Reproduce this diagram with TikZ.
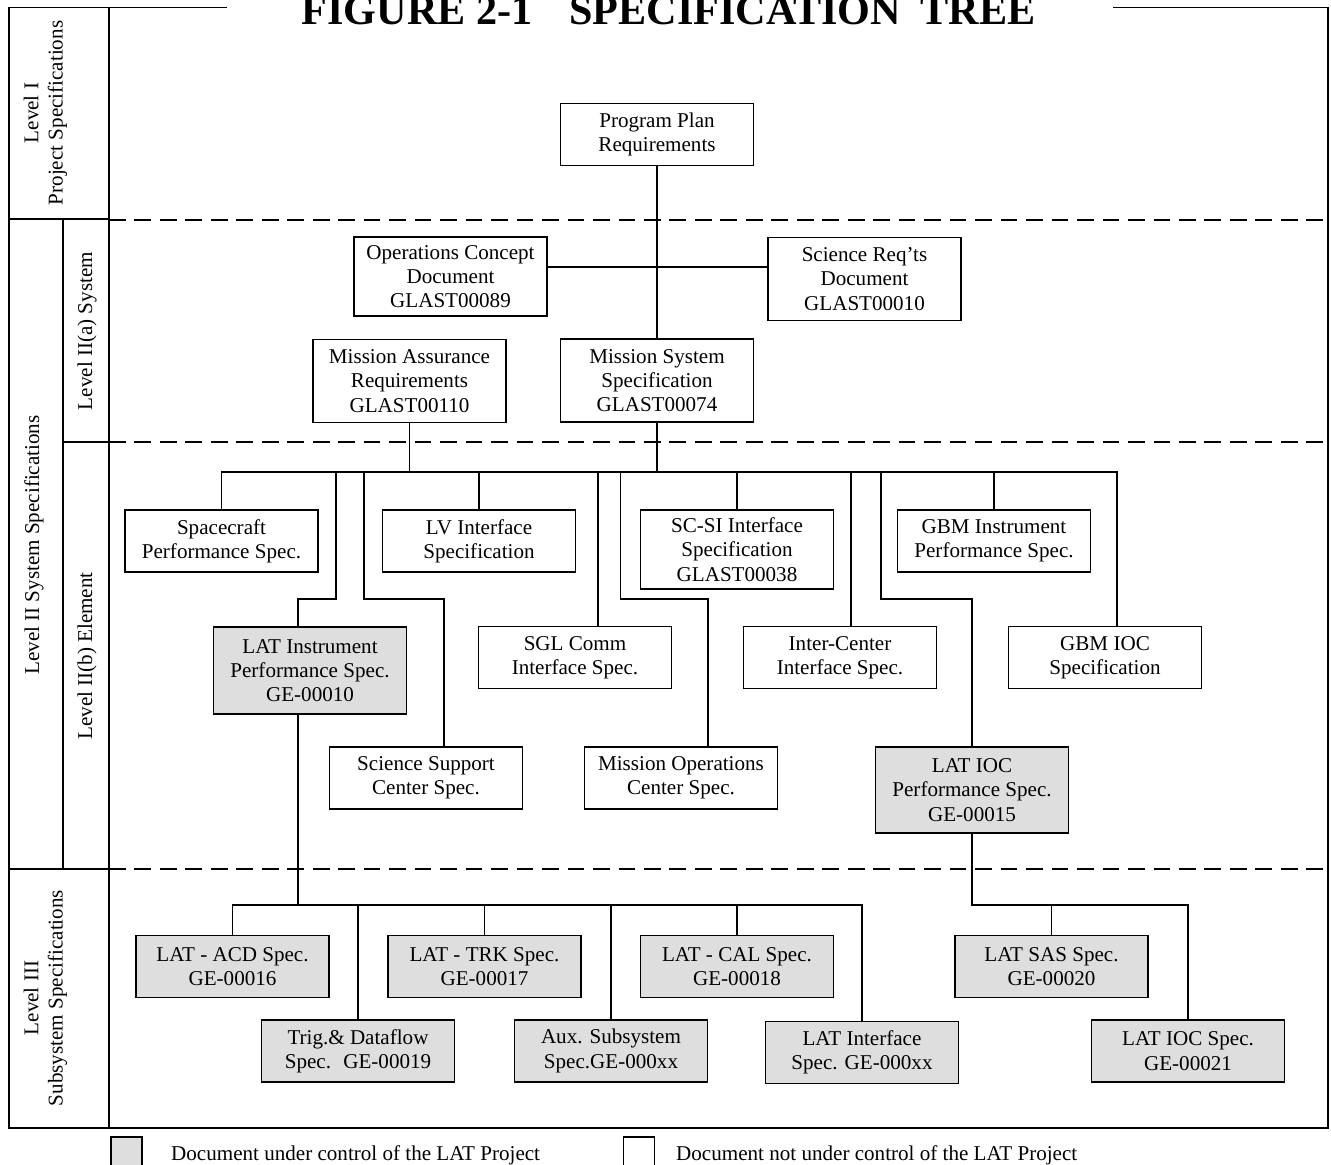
\documentclass[tikz,border=0pt]{standalone}
\usepackage{fontspec}
\setmainfont{Liberation Serif}
\definecolor{latgray}{gray}{0.87}
\begin{document}
\begin{tikzpicture}[x=0.02cm,y=-0.02cm,
    every node/.style={font=\fontsize{12}{13.8}\selectfont},
    doc/.style={draw,line width=0.9pt,minimum width=3.86cm,minimum height=1.24cm,align=center,inner sep=1pt},
    tall/.style={minimum height=1.66cm},
    lat/.style={fill=latgray},
    level/.style={rotate=90,align=center},
    frameline/.style={line width=0.9pt},
    levelsep/.style={line width=1pt,dash pattern=on 9.5pt off 5pt},
    wire/.style={line width=0.7pt}]
    \useasboundingbox (0,0) rectangle (1331,1164);
    % frame and level columns
    \draw[frameline] (227,7.5) -- (9,7.5) -- (9,1128) -- (1328,1128) -- (1328,7.5) -- (1113,7.5);
    \draw[frameline] (109,7.5) -- (109,1128)
        (9,219) -- (109,219)
        (63,219) -- (63,869)
        (63,442) -- (109,442)
        (9,869) -- (109,869);
    \draw[levelsep] (109,220) -- (1328,220)
        (109,442) -- (1328,442)
        (109,869) -- (1328,869);
    \node[font=\bfseries\fontsize{24}{28}\selectfont,anchor=base] (title) at (668.5,24)
        {FIGURE 2-1\hspace{21pt}SPECIFICATION\hspace{11pt}TREE};
    \node[level] (lvl1) at (45.5,113) {Level I\\Project Specifications};
    \node[level] (lvl2) at (34,545) {Level II System Specifications};
    \node[level] (lvl2a) at (87,331) {Level II(a) System};
    \node[level] (lvl2b) at (87,656) {Level II(b) Element};
    \node[level] (lvl3) at (45.5,998) {Level III\\Subsystem Specifications};
    % level I and II(a)
    \node[doc] (plan) at (657,134.5) {Program Plan\\Requirements};
    \node[doc,tall,minimum height=1.58cm] (ops) at (450.5,276.5) {Operations Concept\\Document\\GLAST00089};
    \node[doc,tall] (sci) at (864.5,279) {Science Req’ts\\Document\\GLAST00010};
    \node[doc,tall] (massur) at (409.5,381) {Mission Assurance\\Requirements\\GLAST00110};
    \node[doc,tall] (msys) at (657,380.5) {Mission System\\Specification\\GLAST00074};
    % level II(b)
    \node[doc] (scraft) at (221.5,541) {Spacecraft\\Performance Spec.};
    \node[doc] (lvif) at (479,541) {LV Interface\\Specification};
    \node[doc,tall,minimum height=1.58cm] (scsi) at (737,549.5) {SC-SI Interface\\Specification\\GLAST00038};
    \node[doc] (gbmi) at (994,541) {GBM Instrument\\Performance Spec.};
    \node[doc,lat,minimum height=1.74cm] (latinst) at (310,670.5) {LAT Instrument\\Performance Spec.\\GE-00010};
    \node[doc] (sgl) at (575,657.5) {SGL Comm\\Interface Spec.};
    \node[doc] (intercen) at (840,657.5) {Inter-Center\\Interface Spec.};
    \node[doc] (gbmioc) at (1105,657.5) {GBM IOC\\Specification};
    \node[doc] (ssc) at (426,778) {Science Support\\Center Spec.};
    \node[doc] (moc) at (681,778) {Mission Operations\\Center Spec.};
    \node[doc,lat,minimum height=1.72cm] (latioc) at (972,790) {LAT IOC\\Performance Spec.\\GE-00015};
    % level III
    \node[doc,lat] (acd) at (232.5,966.5) {LAT - ACD Spec.\\GE-00016};
    \node[doc,lat] (trk) at (484.5,966.5) {LAT - TRK Spec.\\GE-00017};
    \node[doc,lat] (cal) at (737,966.5) {LAT - CAL Spec.\\GE-00018};
    \node[doc,lat] (sas) at (1051.5,966.5) {LAT SAS Spec.\\GE-00020};
    \node[doc,lat] (trig) at (358,1051) {Trig.\& Dataflow\\Spec.~ GE-00019};
    \node[doc,lat] (aux) at (611,1051) {Aux. Subsystem\\Spec.GE-000xx};
    \node[doc,lat] (latif) at (862,1052.5) {LAT Interface\\Spec. GE-000xx};
    \node[doc,lat] (iocspec) at (1188,1051) {LAT IOC Spec.\\GE-00021};
    % connectors
    \coordinate (bus2) at (0,472);
    \coordinate (bus3) at (0,905);
    \draw[wire] (plan.south) -- (msys.north);
    \draw[wire] ([yshift=0.19cm]ops.east) coordinate (oc) -- (oc -| sci.west);
    \draw[wire] (massur.south) -- (massur.south |- bus2);
    \draw[wire] (msys.south) -- (msys.south |- bus2);
    \draw[wire] ([xshift=0.24cm]gbmioc.north) coordinate (gi) -- (gi |- bus2) -| (scraft.north);
    \draw[wire] (lvif.north) -- (lvif.north |- bus2);
    \draw[wire] (scsi.north) -- (scsi.north |- bus2);
    \draw[wire] (gbmi.north) -- (gbmi.north |- bus2);
    \draw[wire] ([xshift=0.46cm]sgl.north) coordinate (sg) -- (sg |- bus2);
    \draw[wire] ([xshift=0.22cm]intercen.north) coordinate (ic) -- (ic |- bus2);
    \draw[wire] ([xshift=-0.24cm]latinst.north) |- (336,599) -- (336,472);
    \draw[wire] ([xshift=0.36cm]ssc.north) |- (364,599) -- (364,472);
    \draw[wire] ([xshift=0.54cm]moc.north) |- (620.5,599) -- (620.5,472);
    \draw[wire] (latioc.north) |- (881,599) -- (881,472);
    \draw[wire] ([xshift=-0.24cm]latinst.south) coordinate (ls) -- (ls |- bus3);
    \draw[wire] (acd.north) |- (latif.north |- bus3) -- (latif.north);
    \draw[wire] (trig.north) -- (trig.north |- bus3);
    \draw[wire] (trk.north) -- (trk.north |- bus3);
    \draw[wire] (aux.north) -- (aux.north |- bus3);
    \draw[wire] (cal.north) -- (cal.north |- bus3);
    \draw[wire] (latioc.south) |- (iocspec.north |- bus3) -- (iocspec.north);
    \draw[wire] (sas.north) -- (sas.north |- bus3);
    % legend
    \node[draw,lat,line width=0.9pt,minimum size=0.62cm,inner sep=0pt] (keylat) at (126.5,1152.5) {};
    \node[anchor=base west] (keylattext) at (165,1160) {Document under control of the LAT Project};
    \node[draw,line width=0.9pt,minimum size=0.62cm,inner sep=0pt] (keyother) at (639,1152.5) {};
    \node[anchor=base west] (keyothertext) at (670,1160) {Document not under control of the LAT Project};
\end{tikzpicture}
\end{document}
